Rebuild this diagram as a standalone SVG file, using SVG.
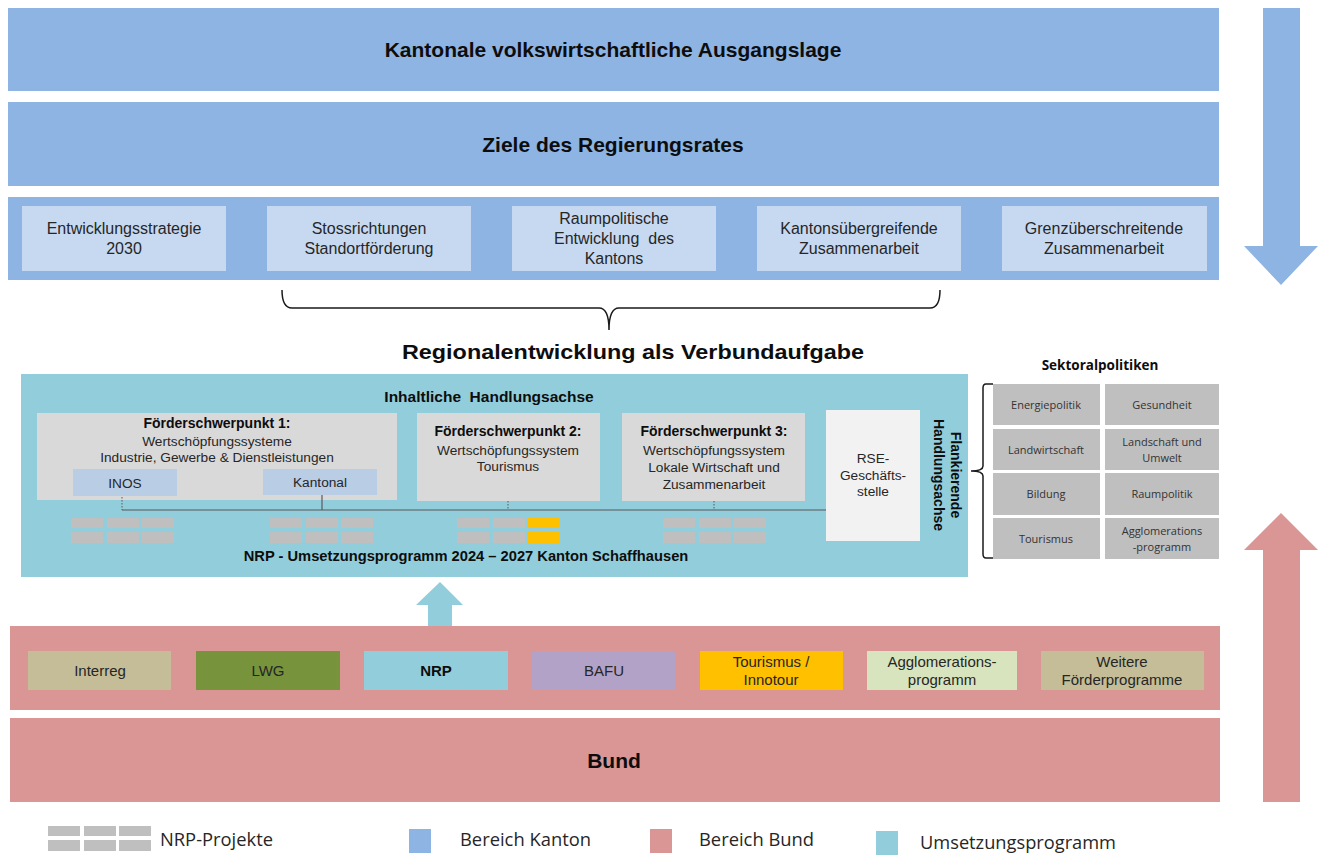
<svg xmlns="http://www.w3.org/2000/svg" width="1327" height="856" viewBox="0 0 1327 856">
<defs>
<style>
.kt{fill:#8EB4E3}
.bd{fill:#D99694}
.um{fill:#92CDDC}
.lb{fill:#C6D9F1}
.fs{fill:#D9D9D9}
.pj{fill:#BFBFBF}
.sk{fill:#BFBFBF}
.t{font-family:"Liberation Sans",Arial,sans-serif;fill:#262626;text-anchor:middle}
.h{font-family:"Liberation Sans",Arial,sans-serif;font-weight:bold;fill:#0d0d0d;text-anchor:middle}
.s{font-family:"Open Sans","DejaVu Sans",sans-serif;fill:#333;text-anchor:middle;font-size:11px}
.lg{font-family:"Open Sans","DejaVu Sans",sans-serif;fill:#262626;font-size:17.5px}
</style>
<g id="grid">
<rect class="pj" x="0" y="0" width="32" height="10"/>
<rect class="pj" x="36" y="0" width="32" height="10"/>
<rect class="pj" x="71" y="0" width="32" height="10"/>
<rect class="pj" x="0" y="14" width="32" height="11"/>
<rect class="pj" x="36" y="14" width="32" height="11"/>
<rect class="pj" x="71" y="14" width="32" height="11"/>
</g>
</defs>
<rect width="1327" height="856" fill="#fff"/>

<g id="band-ausgangslage">
<rect class="kt" x="8" y="8" width="1211" height="83"/>
<text class="h" x="613" y="57" font-size="21">Kantonale volkswirtschaftliche Ausgangslage</text>
</g>
<g id="band-ziele">
<rect class="kt" x="8" y="102" width="1211" height="84"/>
<text class="h" x="613" y="152" font-size="21">Ziele des Regierungsrates</text>
</g>
<g id="band-strategien">
<rect class="kt" x="8" y="197" width="1211" height="83"/>
<g id="s1"><rect class="lb" x="22" y="206" width="204" height="65"/>
<text class="t" font-size="16"><tspan x="124" y="234">Entwicklungsstrategie</tspan><tspan x="124" y="254">2030</tspan></text></g>
<g id="s2"><rect class="lb" x="267" y="206" width="204" height="65"/>
<text class="t" font-size="16"><tspan x="369" y="234">Stossrichtungen</tspan><tspan x="369" y="254">Standortförderung</tspan></text></g>
<g id="s3"><rect class="lb" x="512" y="206" width="204" height="65"/>
<text class="t" font-size="16" xml:space="preserve"><tspan x="614" y="224">Raumpolitische</tspan><tspan x="614" y="244">Entwicklung  des</tspan><tspan x="614" y="264">Kantons</tspan></text></g>
<g id="s4"><rect class="lb" x="757" y="206" width="204" height="65"/>
<text class="t" font-size="16"><tspan x="859" y="234">Kantonsübergreifende</tspan><tspan x="859" y="254">Zusammenarbeit</tspan></text></g>
<g id="s5"><rect class="lb" x="1002" y="206" width="205" height="65"/>
<text class="t" font-size="16"><tspan x="1104" y="234">Grenzüberschreitende</tspan><tspan x="1104" y="254">Zusammenarbeit</tspan></text></g>
</g>

<g id="arrow-kanton">
<polygon class="kt" points="1263,8 1300,8 1300,246 1318,246 1281,285 1244,246 1263,246"/>
</g>
<g id="arrow-bund">
<polygon class="bd" points="1263,802 1300,802 1300,550 1318,550 1281,513 1244,550 1263,550"/>
</g>

<g id="brace-top">
<path d="M282,290 Q282,308 292,308 L599,308 Q609,308 609,330 Q609,308 619,308 L930,308 Q940,308 940,290" fill="none" stroke="#1a1a1a" stroke-width="1.5"/>
</g>
<g id="title-regional">
<text class="h" x="633" y="359" font-size="21" textLength="462" lengthAdjust="spacingAndGlyphs">Regionalentwicklung als Verbundaufgabe</text>
</g>

<g id="umsetzungsprogramm">
<rect class="um" x="21" y="374" width="947" height="203"/>
<text class="h" x="489" y="402" font-size="15.5" xml:space="preserve">Inhaltliche  Handlungsachse</text>
<text class="h" x="466" y="561" font-size="14.7">NRP - Umsetzungsprogramm 2024 – 2027 Kanton Schaffhausen</text>
</g>

<g id="fsp1">
<rect class="fs" x="37" y="413" width="360" height="87"/>
<text class="h" x="217" y="428" font-size="14">Förderschwerpunkt 1:</text>
<text class="t" font-size="13.7"><tspan x="217" y="446">Wertschöpfungssysteme</tspan><tspan x="217" y="462">Industrie, Gewerbe &amp; Dienstleistungen</tspan></text>
</g>
<g id="inos">
<rect x="73" y="469" width="104" height="27" fill="#B9CDE5"/>
<text class="t" x="125" y="488" font-size="13.7">INOS</text>
</g>
<g id="kantonal">
<rect x="263" y="469" width="114" height="26" fill="#B9CDE5"/>
<text class="t" x="320" y="487" font-size="13.7">Kantonal</text>
</g>
<g id="fsp2">
<rect class="fs" x="417" y="413" width="183" height="88"/>
<text class="h" x="508" y="436" font-size="14">Förderschwerpunkt 2:</text>
<text class="t" font-size="13.7"><tspan x="508" y="455">Wertschöpfungssystem</tspan><tspan x="508" y="471">Tourismus</tspan></text>
</g>
<g id="fsp3">
<rect class="fs" x="622" y="413" width="183" height="88"/>
<text class="h" x="714" y="436" font-size="14">Förderschwerpunkt 3:</text>
<text class="t" font-size="13.7"><tspan x="714" y="455">Wertschöpfungssystem</tspan><tspan x="714" y="472">Lokale Wirtschaft und</tspan><tspan x="714" y="489">Zusammenarbeit</tspan></text>
</g>
<g id="rse">
<rect x="826" y="410" width="94" height="131" fill="#F2F2F2"/>
<text class="t" font-size="13.7"><tspan x="873" y="463">RSE-</tspan><tspan x="873" y="480">Geschäfts-</tspan><tspan x="873" y="496">stelle</tspan></text>
</g>
<g id="flankierend">
<text class="h" font-size="14" transform="translate(951,475) rotate(90)" fill="#0d0d0d"><tspan x="0" y="0">Flankierende</tspan><tspan x="0" y="17">Handlungsachse</tspan></text>
</g>

<g id="connectors" stroke="#595959" fill="none">
<line x1="122" y1="510" x2="826" y2="510" stroke-width="1.2"/>
<line x1="122" y1="497" x2="122" y2="510" stroke-dasharray="1.5,1.5"/>
<line x1="322" y1="495" x2="322" y2="510" stroke-width="1.2"/>
<line x1="508" y1="501" x2="508" y2="510" stroke-dasharray="1.5,1.5"/>
<line x1="714" y1="501" x2="714" y2="510" stroke-dasharray="1.5,1.5"/>
</g>

<g id="projekte">
<use href="#grid" x="71" y="518"/>
<use href="#grid" x="270" y="518"/>
<use href="#grid" x="457" y="518"/>
<rect x="528" y="518" width="32" height="10" fill="#FFC000"/>
<rect x="528" y="532" width="32" height="11" fill="#FFC000"/>
<use href="#grid" x="663" y="518"/>
</g>

<g id="sektoralpolitiken">
<text class="h" x="1100" y="370" font-size="13.5" style="font-family:'Open Sans','DejaVu Sans',sans-serif">Sektoralpolitiken</text>
<path d="M993,384 L986,384 Q983,384 983,388 L983,466 Q983,471 971,471 Q983,471 983,476 L983,554 Q983,558 986,558 L993,558" fill="none" stroke="#1a1a1a" stroke-width="1.5"/>
<rect class="sk" x="993" y="384" width="107" height="41"/><text class="s" x="1046" y="409">Energiepolitik</text>
<rect class="sk" x="1105" y="384" width="114" height="41"/><text class="s" x="1162" y="409">Gesundheit</text>
<rect class="sk" x="993" y="429" width="107" height="41"/><text class="s" x="1046" y="454">Landwirtschaft</text>
<rect class="sk" x="1105" y="429" width="114" height="41"/><text class="s"><tspan x="1162" y="446">Landschaft und</tspan><tspan x="1162" y="462">Umwelt</tspan></text>
<rect class="sk" x="993" y="473" width="107" height="42"/><text class="s" x="1046" y="498">Bildung</text>
<rect class="sk" x="1105" y="473" width="114" height="42"/><text class="s" x="1162" y="498">Raumpolitik</text>
<rect class="sk" x="993" y="518" width="107" height="41"/><text class="s" x="1046" y="543">Tourismus</text>
<rect class="sk" x="1105" y="518" width="114" height="41"/><text class="s"><tspan x="1162" y="535">Agglomerations</tspan><tspan x="1162" y="551">-programm</tspan></text>
</g>

<g id="arrow-nrp">
<polygon class="um" points="428,651 452,651 452,605 463,605 440,582 416,605 428,605"/>
</g>

<g id="band-programme">
<rect class="bd" x="10" y="626" width="1210" height="84"/>
<g id="p-interreg"><rect x="28" y="651" width="143" height="39" fill="#C4BD97"/><text class="t" x="100" y="676" font-size="15">Interreg</text></g>
<g id="p-lwg"><rect x="196" y="651" width="144" height="39" fill="#77933C"/><text class="t" x="268" y="676" font-size="15">LWG</text></g>
<g id="p-nrp"><rect class="um" x="364" y="651" width="144" height="39"/><text class="h" x="436" y="676" font-size="15">NRP</text></g>
<g id="p-bafu"><rect x="532" y="651" width="143" height="39" fill="#B2A2C7"/><text class="t" x="604" y="676" font-size="15">BAFU</text></g>
<g id="p-tourismus"><rect x="700" y="651" width="143" height="39" fill="#FFC000"/><text class="t" font-size="15"><tspan x="771" y="667">Tourismus /</tspan><tspan x="771" y="685">Innotour</tspan></text></g>
<g id="p-agglo"><rect x="867" y="651" width="150" height="39" fill="#D7E4BD"/><text class="t" font-size="15"><tspan x="942" y="667">Agglomerations-</tspan><tspan x="942" y="685">programm</tspan></text></g>
<g id="p-weitere"><rect x="1041" y="651" width="163" height="39" fill="#C4BD97"/><text class="t" font-size="15"><tspan x="1122" y="667">Weitere</tspan><tspan x="1122" y="685">Förderprogramme</tspan></text></g>
</g>

<g id="band-bund">
<rect class="bd" x="10" y="718" width="1210" height="84"/>
<text class="h" x="614" y="768" font-size="21">Bund</text>
</g>

<g id="legend">
<use href="#grid" x="48" y="826"/>
<text class="lg" x="160" y="846" textLength="113" lengthAdjust="spacingAndGlyphs">NRP-Projekte</text>
<rect class="kt" x="409" y="829" width="22" height="24"/>
<text class="lg" x="460" y="846" textLength="131" lengthAdjust="spacingAndGlyphs">Bereich Kanton</text>
<rect class="bd" x="650" y="829" width="22" height="24"/>
<text class="lg" x="699" y="846" textLength="115" lengthAdjust="spacingAndGlyphs">Bereich Bund</text>
<rect class="um" x="876" y="831" width="22" height="24"/>
<text class="lg" x="920" y="849" textLength="196" lengthAdjust="spacingAndGlyphs">Umsetzungsprogramm</text>
</g>
</svg>
